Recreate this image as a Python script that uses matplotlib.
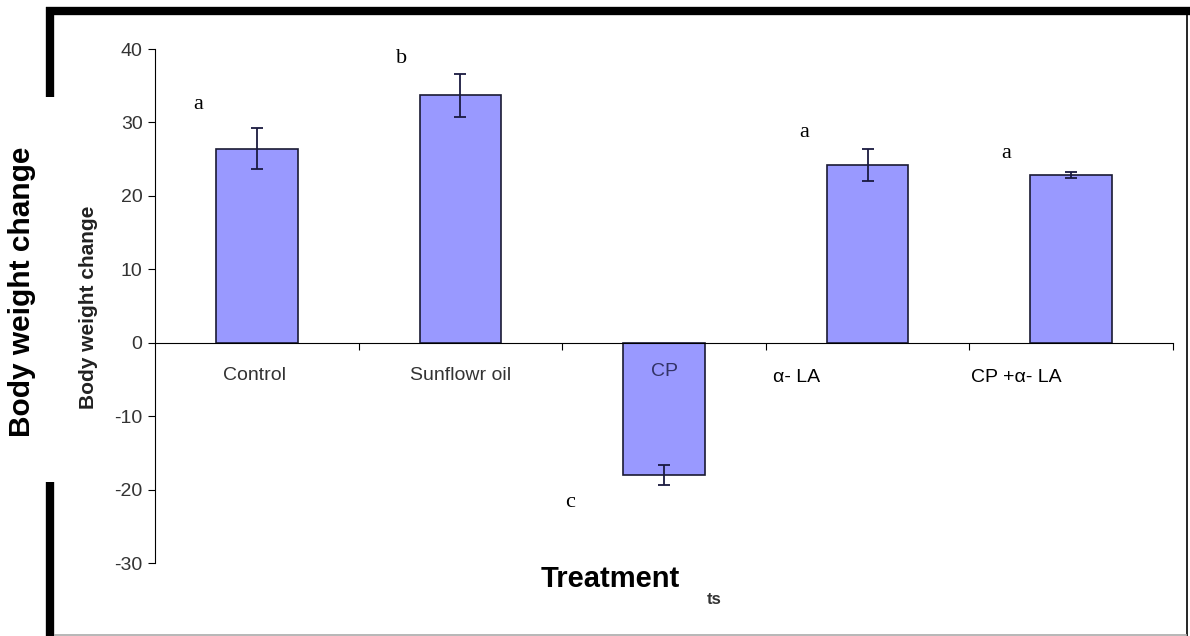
import matplotlib
matplotlib.use("Agg")
import matplotlib.pyplot as plt
from matplotlib.lines import Line2D

plt.rcParams['font.family'] = ['Liberation Sans', 'DejaVu Sans']
plt.rcParams['axes.unicode_minus'] = False

# data
treatments = ['Control', 'Sunflowr oil', 'CP', 'α- LA', 'CP +α- LA']
weight_change = [26.4, 33.7, -18.0, 24.2, 22.8]
sem = [2.8, 2.9, 1.4, 2.2, 0.4]
letters = ['a', 'b', 'c', 'a', 'a']

# where labels sit (data coords)
letter_pos = [(0.21, 32.5), (1.21, 38.7), (2.04, -21.7), (3.19, 28.6), (4.18, 25.8)]
label_pos = [(0.49, -4.4), (1.5, -4.4), (2.5, -3.9), (3.15, -4.8), (4.23, -4.8)]
label_colors = ['#333333', '#333333', '#333366', 'black', 'black']

W, H = 1190, 636
fig = plt.figure(figsize=(W / 100, H / 100), dpi=100)

ax = fig.add_axes([155 / W, (H - 563) / H, (1173 - 155) / W, (563 - 49) / H])
x = [i + 0.5 for i in range(len(treatments))]
ax.bar(x, weight_change, width=0.4, color='#9999ff', edgecolor='#1a1a33',
       linewidth=1.2, zorder=2)
ax.errorbar(x, weight_change, yerr=sem, fmt='none', ecolor='#1a1a40',
            elinewidth=1.3, capsize=4.5, capthick=1.3, zorder=3)

ax.set_xlim(0, 5)
ax.set_ylim(-30, 40)
ax.set_yticks(range(-30, 41, 10))
ax.set_xticks([1, 2, 3, 4, 5])
ax.set_xticklabels([])
ax.spines['top'].set_visible(False)
ax.spines['right'].set_visible(False)
ax.spines['bottom'].set_position(('data', 0))
ax.spines['bottom'].set_zorder(4)
ax.tick_params(axis='y', direction='out', length=5, labelsize=14,
               labelcolor='#333333', pad=4)
ax.tick_params(axis='x', direction='out', length=5)

for (lx, ly), t, c in zip(label_pos, treatments, label_colors):
    ax.text(lx, ly, t, ha='center', va='center', fontsize=14, color=c, zorder=5)

for (lx, ly), t in zip(letter_pos, letters):
    ax.text(lx, ly, t, ha='center', va='center', fontsize=16,
            family='Liberation Serif', color='black')

# axis titles (small original one and big overlaid one)
fig.text(88 / W, 1 - 307 / H, 'Body weight change', rotation=90, ha='center',
         va='center', fontsize=15, fontweight='bold', color='#222222')
fig.text(22 / W, 1 - 292 / H, 'Body weight change', rotation=90, ha='center',
         va='center', fontsize=21.5, fontweight='bold', color='black')
fig.text(610 / W, 1 - 579 / H, 'Treatment', ha='center', va='center',
         fontsize=21, fontweight='bold', color='black')
fig.text(714 / W, 1 - 600 / H, 'ts', ha='center', va='center',
         fontsize=12, fontweight='bold', color='#333333')

# thick black frame pieces
def fline(x0, y0, x1, y1, lw, color='black'):
    fig.add_artist(Line2D([x0 / W, x1 / W], [1 - y0 / H, 1 - y1 / H],
                          transform=fig.transFigure, color=color, linewidth=lw,
                          solid_capstyle='butt'))

fline(46, 11, 1190, 11, 6)
fline(50, 7, 50, 97, 6)
fline(50, 482, 50, 636, 6)
fline(1187, 14, 1187, 636, 1.2)
fline(54, 635, 1187, 635, 1.2, '#aaaaaa')

fig.savefig('out.png', dpi=100)
